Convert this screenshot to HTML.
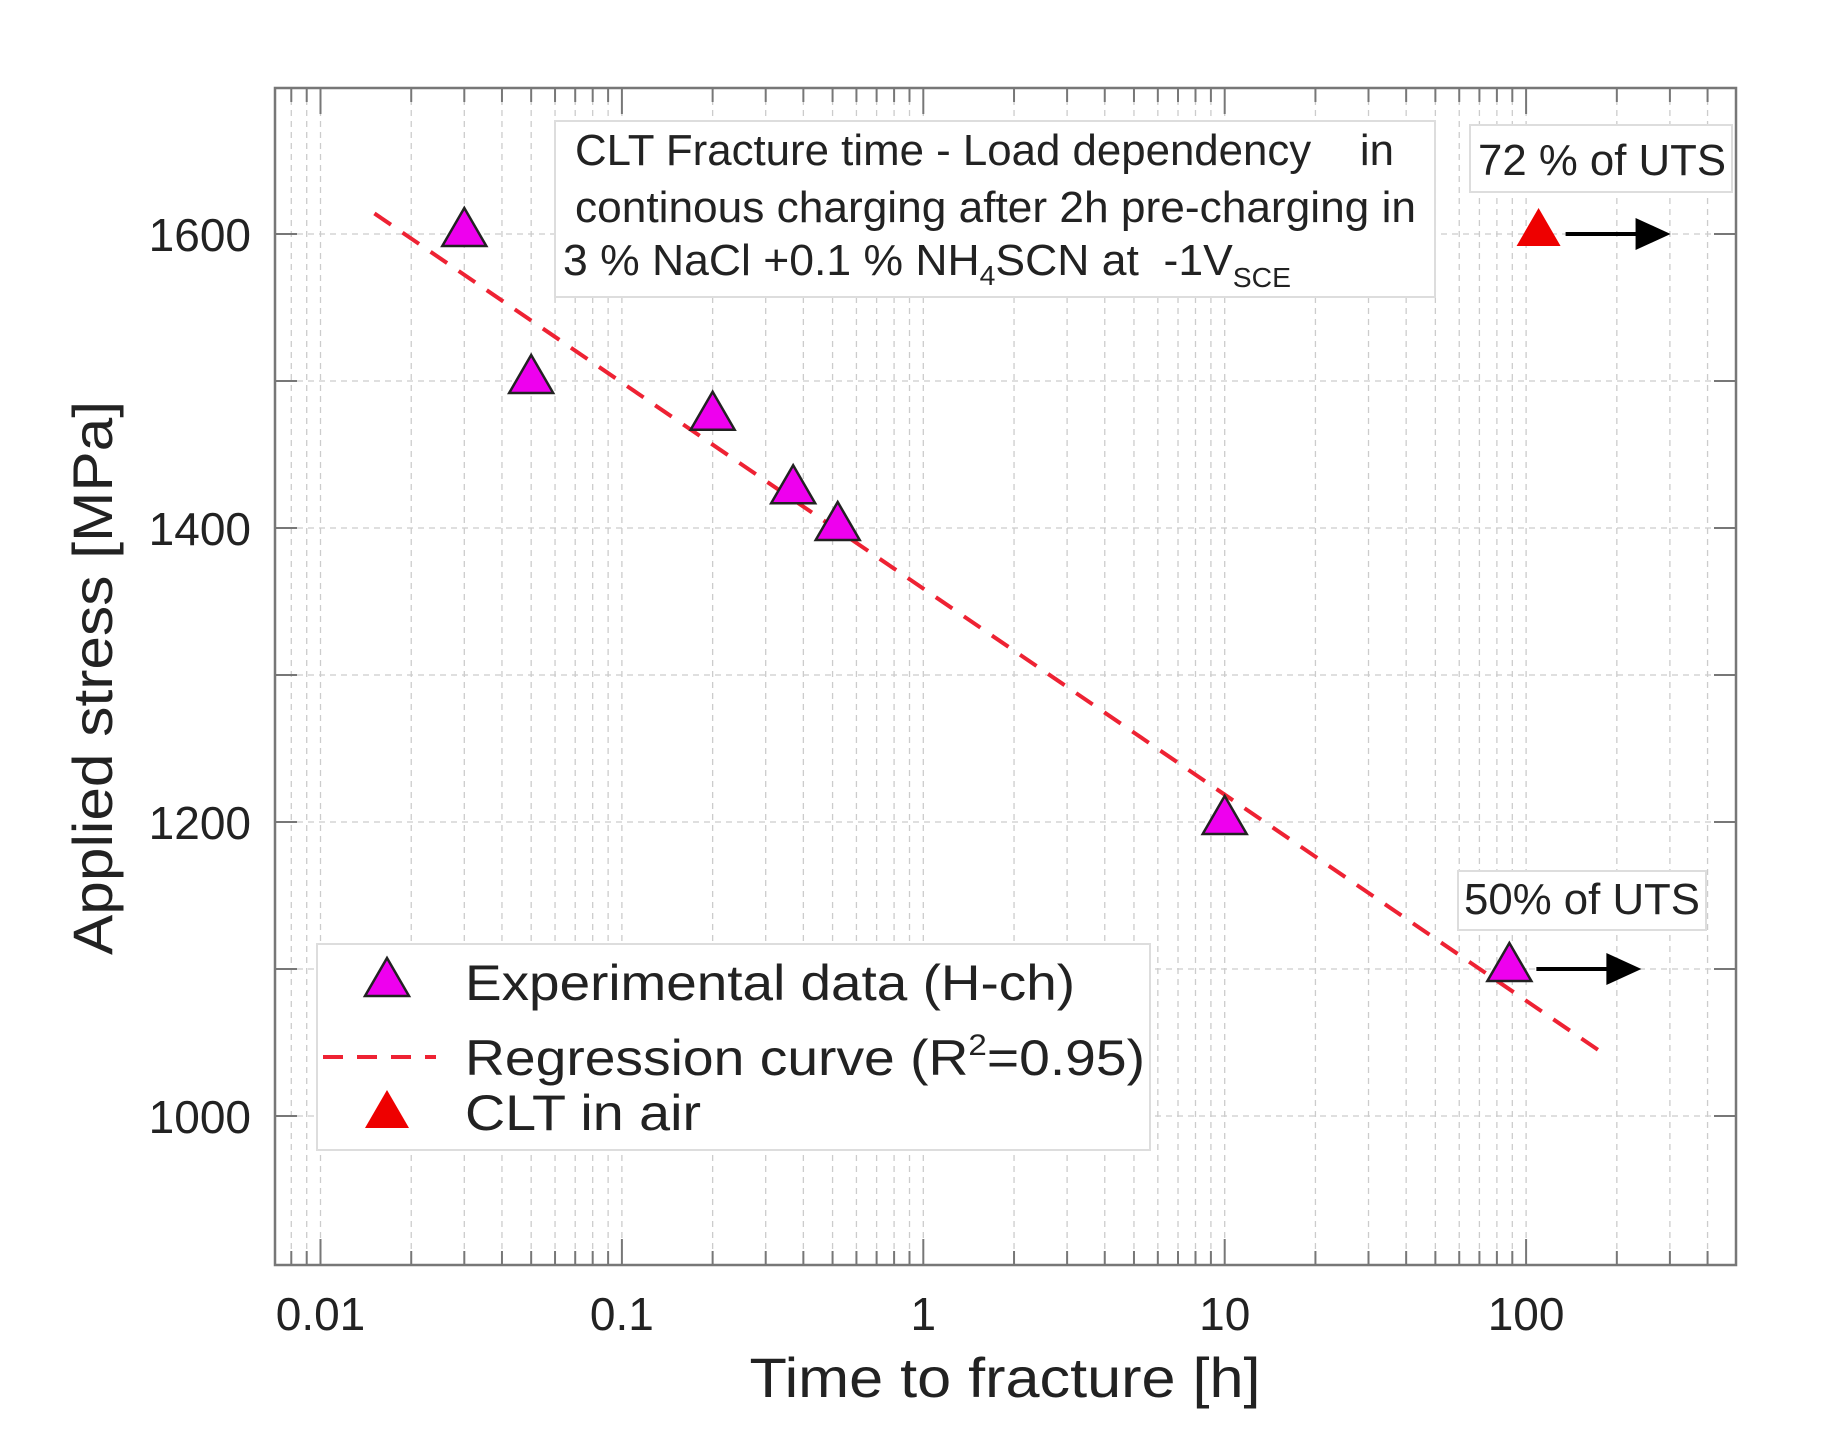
<!DOCTYPE html>
<html><head><meta charset="utf-8"><style>
html,body{margin:0;padding:0;background:#fff;}
svg{display:block;font-family:"Liberation Sans",Arial,sans-serif;}
</style></head><body>
<svg id="chart" width="1822" height="1444" viewBox="0 0 1822 1444" xmlns="http://www.w3.org/2000/svg">
<rect x="0" y="0" width="1822" height="1444" fill="#fff"/>
<g id="grid"></g>
<g id="ticks"></g>
<rect x="275" y="88" width="1461" height="1177" fill="none" stroke="#777" stroke-width="2.5"/>
<g id="ylabels" font-size="46" fill="#222" text-anchor="end"></g>
<g id="xlabels" font-size="46" fill="#222" text-anchor="middle"></g>
<text x="1005" y="1397" font-size="56" fill="#222" text-anchor="middle" textLength="511" lengthAdjust="spacingAndGlyphs">Time to fracture [h]</text>
<text transform="translate(112,678) rotate(-90)" font-size="56" fill="#222" text-anchor="middle" textLength="554" lengthAdjust="spacingAndGlyphs">Applied stress [MPa]</text>

<g>
<rect x="555" y="121" width="880" height="176" fill="#fff" stroke="#ddd" stroke-width="2"/>
<text x="575" y="165" font-size="44" fill="#222" textLength="819" lengthAdjust="spacingAndGlyphs">CLT Fracture time - Load dependency&#160;&#160;&#160; in</text>
<text x="575" y="222" font-size="44" fill="#222" textLength="841" lengthAdjust="spacingAndGlyphs">continous charging after 2h pre-charging in</text>
<text x="563" y="275" font-size="44" fill="#222" textLength="728" lengthAdjust="spacingAndGlyphs">3 % NaCl +0.1 % NH<tspan font-size="28" dy="10">4</tspan><tspan dy="-10">SCN at&#160; -1V</tspan><tspan font-size="28" dy="12">SCE</tspan></text>
</g>
<g>
<rect x="1470" y="125" width="262" height="67" fill="#fff" stroke="#ddd" stroke-width="2"/>
<text x="1478" y="175" font-size="44" fill="#222" textLength="248" lengthAdjust="spacingAndGlyphs">72 % of UTS</text>
</g>
<g>
<rect x="1458" y="871" width="248" height="59" fill="#fff" stroke="#ddd" stroke-width="2"/>
<text x="1464" y="914" font-size="44" fill="#222" textLength="236" lengthAdjust="spacingAndGlyphs">50% of UTS</text>
</g>

<g id="series"></g>

<g>
<rect x="317" y="944" width="833" height="206" fill="#fff" stroke="#ddd" stroke-width="2"/>
<g>
<polygon points="387,958 409,996 365,996" fill="#ee00ee" stroke="#222" stroke-width="2.5"/>
<text x="465" y="1000" font-size="50" fill="#222" textLength="610" lengthAdjust="spacingAndGlyphs">Experimental data (H-ch)</text>
</g>
<g>
<line x1="323" y1="1057" x2="436" y2="1057" stroke="#ee2233" stroke-width="4" stroke-dasharray="20,14"/>
<text x="465" y="1075" font-size="50" fill="#222" textLength="680" lengthAdjust="spacingAndGlyphs">Regression curve (R<tspan font-size="30" dy="-20">2</tspan><tspan dy="20">=0.95)</tspan></text>
</g>
<g>
<polygon points="387,1090 409,1128 365,1128" fill="#ee0000"/>
<text x="465" y="1130" font-size="50" fill="#222" textLength="236" lengthAdjust="spacingAndGlyphs">CLT in air</text>
</g>
</g>
</svg>
<script>
const hchTimes = [0.03, 0.05, 0.2, 0.37, 0.52, 10, 88];
const hchStress = [1600, 1500, 1475, 1425, 1400, 1200, 1100];
const airTimes = [110];
const airStress = [1600];
const regTimes = [0.0151, 185];
const regStress = [1614, 1041];
const xTickValues = [0.01, 0.1, 1, 10, 100];
const xTickLabels = ["0.01", "0.1", "1", "10", "100"];
const yTickValues = [1000, 1200, 1400, 1600];
const yTickLabels = ["1000", "1200", "1400", "1600"];

const NS = "http://www.w3.org/2000/svg";
const L = 275, R = 1736, T = 88, B = 1265;
function xs(t){ return 320.5 + (Math.log10(t) + 2) * 301.4; }
function ys(v){ return 234 + (1600 - v) * 1.47; }
function mk(tag, attrs, parent){ const e = document.createElementNS(NS, tag); for (const k in attrs) e.setAttribute(k, attrs[k]); parent.appendChild(e); return e; }

const grid = document.getElementById('grid');
const ticks = document.getElementById('ticks');
for (let d = -3; d <= 2; d++) {
  for (let m = 1; m <= 9; m++) {
    const t = m * Math.pow(10, d);
    const x = xs(t);
    if (x < L + 1 || x > R - 1) continue;
    const g = mk('line', {x1:x, y1:T, x2:x, y2:B, stroke:'#ccc', 'stroke-width':1.3, 'stroke-dasharray':'6,5'}, grid);
    
    
    const len = m === 1 ? 26 : 14;
    const tb = mk('line', {x1:x, y1:B, x2:x, y2:B - len, stroke:'#777', 'stroke-width':2}, ticks);
    
    
    const tt = mk('line', {x1:x, y1:T, x2:x, y2:T + len, stroke:'#777', 'stroke-width':2}, ticks);
    
    
  }
}
for (let v = 1000; v <= 1600; v += 100) {
  const y = ys(v);
  const g = mk('line', {x1:L, y1:y, x2:R, y2:y, stroke:'#ccc', 'stroke-width':1.3, 'stroke-dasharray':'6,5'}, grid);
  
  
  const t1 = mk('line', {x1:L, y1:y, x2:L + 22, y2:y, stroke:'#777', 'stroke-width':2}, ticks);
  
  
  const t2 = mk('line', {x1:R, y1:y, x2:R - 22, y2:y, stroke:'#777', 'stroke-width':2}, ticks);
  
  
}
const xl = document.getElementById('xlabels');
xTickValues.forEach((t, i) => {
  const e = mk('text', {x: xs(t), y: 1330}, xl);
  
  
  e.textContent = xTickLabels[i];
});
const yl = document.getElementById('ylabels');
yTickValues.forEach((v, i) => {
  const e = mk('text', {x: 251, y: ys(v) + 17}, yl);
  
  
  e.textContent = yTickLabels[i];
});

const s = document.getElementById('series');
const reg = mk('line', {x1: xs(regTimes[0]), y1: ys(regStress[0]), x2: xs(regTimes[1]), y2: ys(regStress[1]), stroke:'#ee2233', 'stroke-width':4, 'stroke-dasharray':'20,14'}, s);



function tri(x, y, fill, stroke, parent){
  const p = mk('polygon', {points: `${x},${y-26} ${x+22},${y+12} ${x-22},${y+12}`, fill: fill}, parent);
  if (stroke) { p.setAttribute('stroke', stroke); p.setAttribute('stroke-width', 2.5); }
  return p;
}
function arrow(x0, y, parent){
  const g = mk('g', {}, parent);
  
  
  mk('line', {x1:x0, y1:y, x2:x0 + 75, y2:y, stroke:'#000', 'stroke-width':4}, g);
  mk('polygon', {points:`${x0+70},${y-16} ${x0+105},${y} ${x0+70},${y+16}`, fill:'#000'}, g);
}
hchTimes.forEach((t, i) => {
  const p = tri(xs(t), ys(hchStress[i]), '#ee00ee', '#222', s);
  
  
});
arrow(xs(hchTimes[hchTimes.length - 1]) + 27, ys(hchStress[hchStress.length - 1]), s);
airTimes.forEach((t, i) => {
  const p = tri(xs(t), ys(airStress[i]), '#ee0000', null, s);
  
  
  arrow(xs(t) + 27, ys(airStress[i]), s);
});
</script>
</body></html>
